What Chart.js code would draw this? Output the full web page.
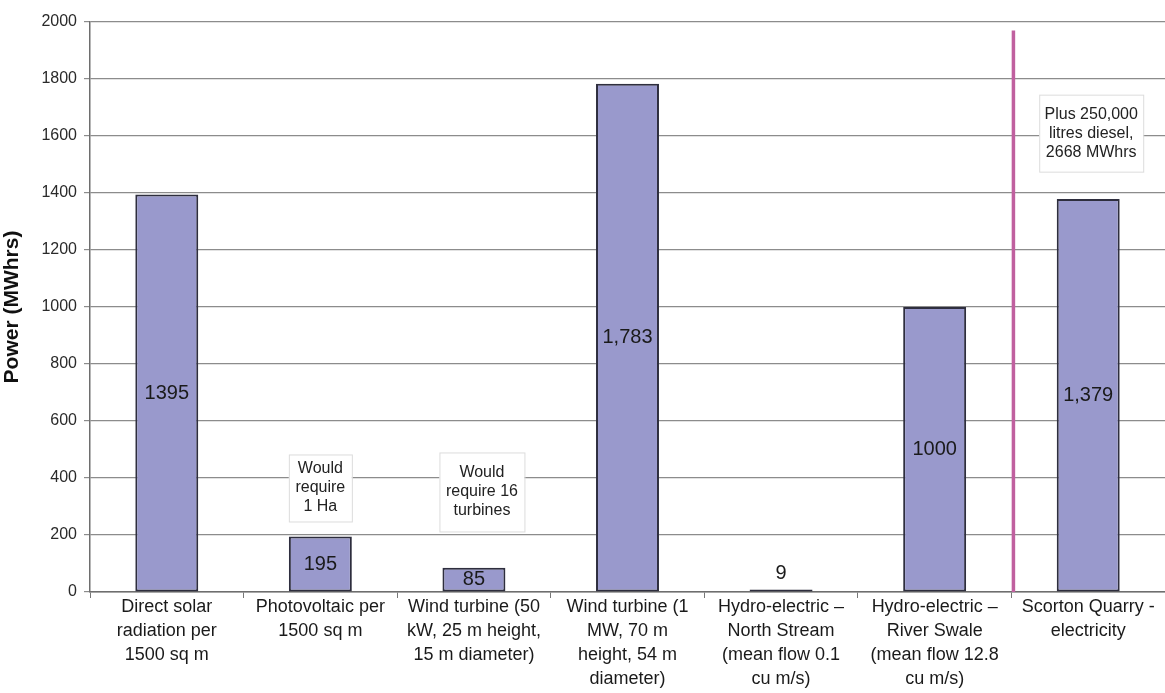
<!DOCTYPE html>
<html>
<head>
<meta charset="utf-8">
<script src="https://cdn.jsdelivr.net/npm/chart.js@4/dist/chart.umd.min.js"></script>
<style>
  html, body { margin: 0; padding: 0; background: #fff; }
  #wrap { width: 1165px; height: 693px; position: relative; }
</style>
</head>
<body>
<div id="wrap"><canvas id="c"></canvas></div>
<script>
// Annual power from each renewable option, compared with quarry use
const categories = [
  ['Direct solar', 'radiation per', '1500 sq m'],
  ['Photovoltaic per', '1500 sq m'],
  ['Wind turbine (50', 'kW, 25 m height,', '15 m diameter)'],
  ['Wind turbine (1', 'MW, 70 m', 'height, 54 m', 'diameter)'],
  ['Hydro-electric \u2013', 'North Stream', '(mean flow 0.1', 'cu m/s)'],
  ['Hydro-electric \u2013', 'River Swale', '(mean flow 12.8', 'cu m/s)'],
  ['Scorton Quarry -', 'electricity']
];
const powerMWh = [1395, 195, 85, 1783, 9, 1000, 1379];
const valueText = ['1395', '195', '85', '1,783', '9', '1000', '1,379'];
const yTicks = [0, 200, 400, 600, 800, 1000, 1200, 1400, 1600, 1800, 2000];
const notes = [
  { index: 1, lines: ['Would', 'require', '1 Ha'] },
  { index: 2, lines: ['Would', 'require 16', 'turbines'] },
  { index: 6, lines: ['Plus 250,000', 'litres diesel,', '2668 MWhrs'] }
];

const FONT = 'Arial, "Liberation Sans", sans-serif';

// value labels, note boxes and the divider before the quarry column
const decorations = {
  id: 'decorations',
  afterDatasetsDraw(chart, args, opts) {
    const ctx = chart.ctx;
    const x = chart.scales.x, y = chart.scales.y;
    const meta = chart.getDatasetMeta(0);

    // value labels: centred in the bar, or just above a bar too thin to hold one
    ctx.save();
    ctx.fillStyle = '#1a1a1a';
    ctx.font = '20px ' + FONT;
    ctx.textAlign = 'center';
    ctx.textBaseline = 'middle';
    meta.data.forEach((bar, i) => {
      const v = powerMWh[i];
      const top = y.getPixelForValue(v), base = y.getPixelForValue(0);
      const cy = (base - top) > 15 ? (top + base) / 2 : top - opts.aboveGap;
      ctx.fillText(valueText[i], bar.x, cy);
    });
    ctx.restore();

    // divider
    const dx = (x.getPixelForValue(5) + x.getPixelForValue(6)) / 2 + 2;
    ctx.save();
    ctx.strokeStyle = '#c0609f';
    ctx.lineWidth = 3.5;
    ctx.beginPath();
    ctx.moveTo(dx, y.getPixelForValue(opts.dividerTop));
    ctx.lineTo(dx, y.getPixelForValue(0));
    ctx.stroke();
    ctx.restore();

    // note boxes
    ctx.save();
    ctx.font = '16px ' + FONT;
    ctx.textAlign = 'center';
    ctx.textBaseline = 'middle';
    notes.forEach((n, k) => {
      const b = opts.boxes[k];
      const cx = x.getPixelForValue(n.index) + b.dx;
      const cy = y.getPixelForValue(b.at);
      const left = cx - b.w / 2, top = cy - b.h / 2;
      ctx.fillStyle = '#ffffff';
      ctx.fillRect(left, top, b.w, b.h);
      ctx.strokeStyle = '#dcdcdc';
      ctx.lineWidth = 1;
      ctx.strokeRect(left + 0.5, top + 0.5, b.w, b.h);
      ctx.fillStyle = '#222';
      const lh = 19;
      n.lines.forEach((t, j) => {
        ctx.fillText(t, cx, cy + (j - (n.lines.length - 1) / 2) * lh);
      });
    });
    ctx.restore();
  }
};

new Chart(document.getElementById('c'), {
  type: 'bar',
  data: {
    labels: categories,
    datasets: [{
      data: powerMWh,
      backgroundColor: '#9999cc',
      borderColor: '#2e2e3e',
      borderWidth: 2,
      borderSkipped: false,
      barPercentage: 0.41,
      categoryPercentage: 1.0
    }]
  },
  options: {
    responsive: true,
    maintainAspectRatio: false,
    animation: false,
    layout: { padding: { top: 22, right: 0, left: 0, bottom: 0 } },
    plugins: {
      legend: { display: false },
      tooltip: { enabled: false },
      decorations: {
        aboveGap: 16,
        dividerTop: 1970,
        boxes: [
          { dx: 0, at: 365, w: 63, h: 67 },
          { dx: 8, at: 351, w: 85, h: 79 },
          { dx: 3, at: 1610, w: 104, h: 77 }
        ]
      }
    },
    scales: {
      x: {
        grid: {
          display: true,
          drawOnChartArea: false,
          drawTicks: true,
          tickLength: 6,
          color: '#777',
          offset: true
        },
        border: { color: '#6e6e6e', width: 1.5 },
        ticks: {
          color: '#1a1a1a',
          font: { family: FONT, size: 18, lineHeight: 1.33 },
          maxRotation: 0,
          autoSkip: false,
          padding: -3
        },
        afterFit(scale) { scale.height = 101; }
      },
      y: {
        min: 0,
        max: 2000,
        afterBuildTicks(scale) { scale.ticks = yTicks.map(v => ({ value: v })); },
        grid: { color: '#8c8c8c', lineWidth: 1.2, tickLength: 6 },
        border: { color: '#6e6e6e', width: 1.5 },
        ticks: {
          color: '#2a2a2a',
          font: { family: FONT, size: 16 },
          padding: 7,
          callback: (v) => String(v)
        },
        title: {
          display: true,
          text: 'Power (MWhrs)',
          color: '#111',
          font: { family: FONT, size: 21, weight: 'bold' },
          padding: { top: 0, bottom: 6 }
        },
        afterFit(scale) { scale.width = 90; }
      }
    }
  },
  plugins: [decorations]
});
</script>
</body>
</html>
